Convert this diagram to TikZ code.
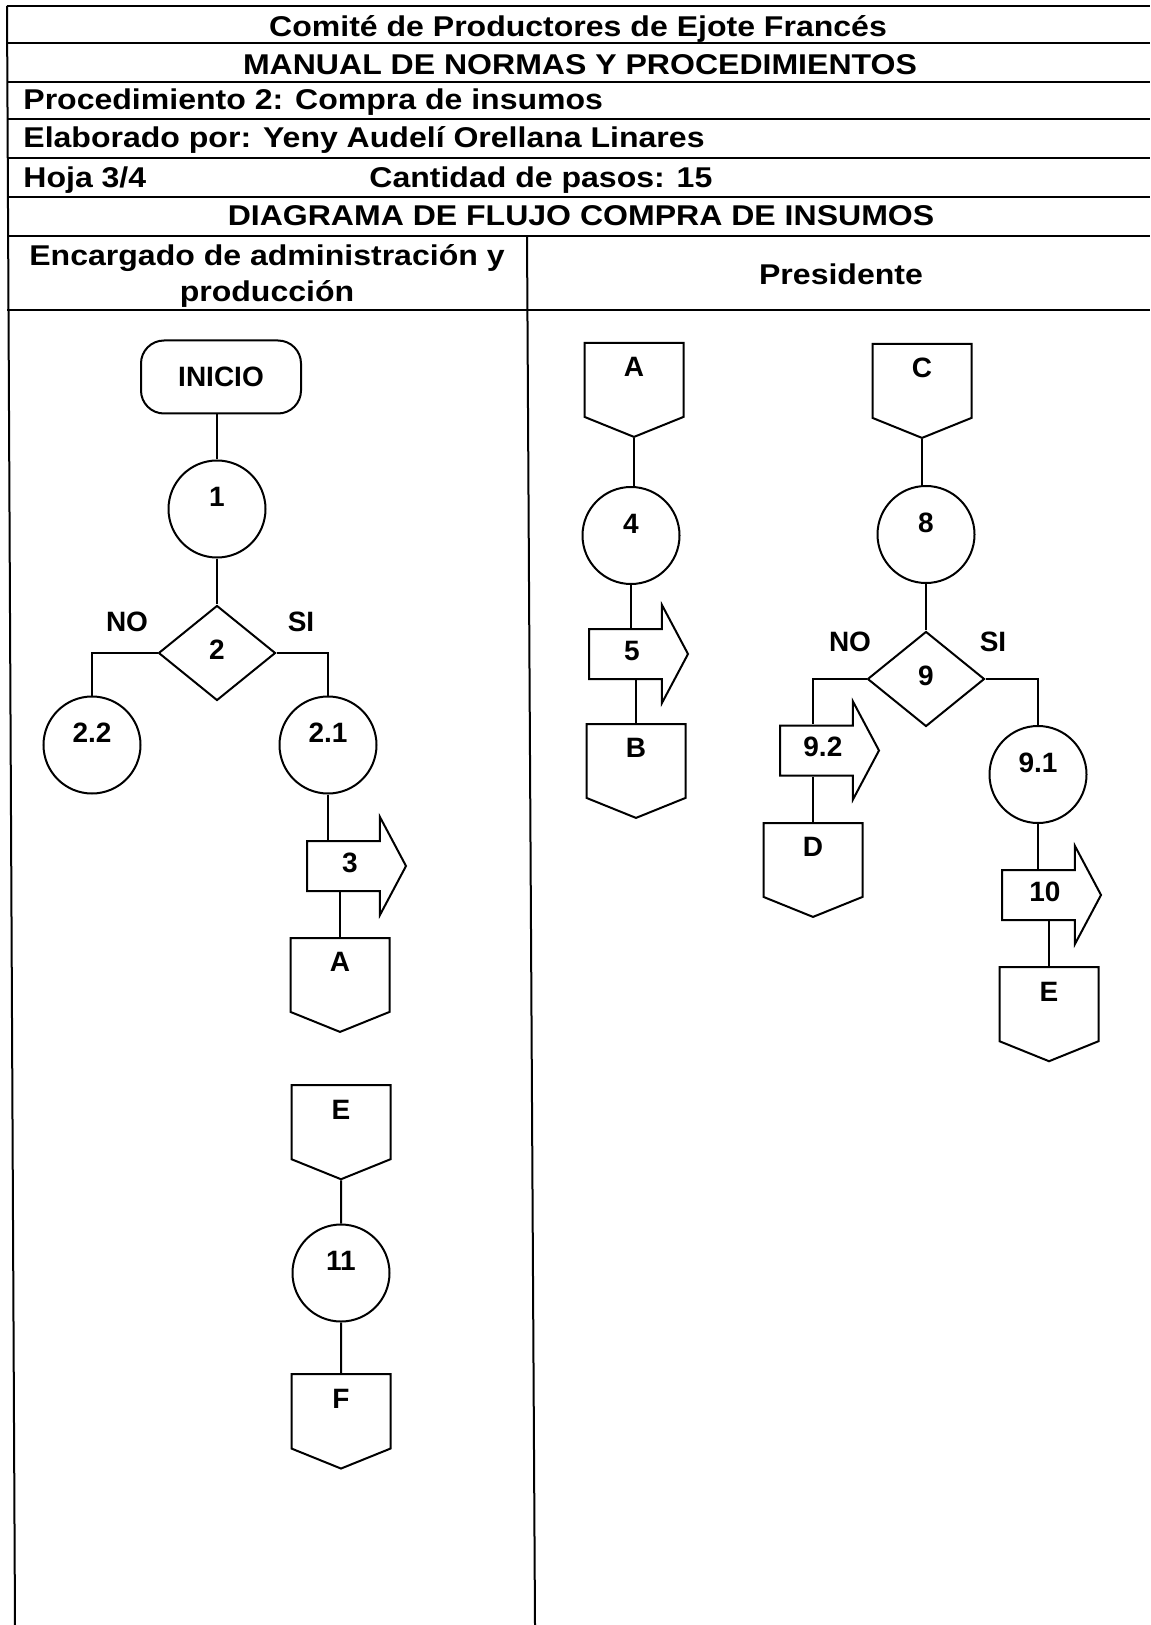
\documentclass[tikz,border=0pt]{standalone}
\usepackage{fontspec}
\setmainfont{Liberation Sans}
\newfontfamily\headfont{Liberation Sans}[FakeStretch=1.12]
\usetikzlibrary{shapes.geometric,shapes.arrows,shapes.symbols}
\tikzset{
  BaseNode/.style = {align=center, inner sep=0pt, text centered, draw=black, line width=1pt, fill=white, font=\fontsize{14}{16}\selectfont\bfseries},
  StartNode/.style = {BaseNode, rectangle, rounded corners=11.5pt, minimum width=80pt, minimum height=36.5pt},
  StepNode/.style = {BaseNode, circle, minimum size=48.5pt, text height=10pt, text depth=12.5pt},
  AskNode/.style = {BaseNode, diamond, minimum width=58.5pt, minimum height=47.5pt, text height=10pt, text depth=3.5pt},
  SendNode/.style = {BaseNode, single arrow, single arrow head extend=12pt, single arrow tip angle=124, minimum height=49.5pt, inner ysep=5pt, text height=10pt, text depth=4pt, anchor=tail},
  PageNode/.style = {BaseNode, signal, signal from=nowhere, signal to=south, signal pointer angle=136, minimum width=49.5pt, minimum height=39pt, text height=10pt, text depth=13pt, anchor=north},
  HeadText/.style = {inner sep=0pt, font=\headfont\fontsize{14.3}{18}\selectfont\bfseries},
  BranchText/.style = {inner sep=0pt, font=\fontsize{14}{16}\selectfont\bfseries},
  TableLine/.style = {line width=1pt},
  FlowLine/.style = {line width=1pt},
}

\begin{document}
\begin{tikzpicture}[x=0.5pt, y=-0.5pt]
  \useasboundingbox (0,0) rectangle (1150,1625);
  % table
  \draw[TableLine] (7,6) -- (1150,6);
  \foreach \y in {43,82,119,158,197,236,310}
    \draw[TableLine] (7,\y) -- (1150,\y);
  \draw[TableLine] (7,6) -- (15,1625);
  \draw[TableLine] (527,236) -- (535,1625);

  % header
  \node[HeadText, anchor=base] (empresa) at (578,37) {Comité de Productores de Ejote Francés};
  \node[HeadText, anchor=base] (manual) at (580,75) {MANUAL DE NORMAS Y PROCEDIMIENTOS};
  \node[HeadText, anchor=base west] (proc) at (23,110) {Procedimiento 2: Compra de insumos};
  \node[HeadText, anchor=base west] (autor) at (23,148) {Elaborado por: Yeny Audelí Orellana Linares};
  \node[HeadText, anchor=base west] (hoja) at (23,188) {Hoja 3/4};
  \node[HeadText, anchor=base west] (pasos) at (369,188) {Cantidad de pasos: 15};
  \node[HeadText, anchor=base] (diagrama) at (581,226) {DIAGRAMA DE FLUJO COMPRA DE INSUMOS};
  \node[HeadText, align=center] (encargado) at (267,276) {Encargado de administración y\\producción};
  \node[HeadText, anchor=base] (presidente) at (841,285) {Presidente};

  % Encargado de administracion y produccion
  \node[StartNode] (start) at (221,377) {INICIO};
  \node[StepNode] (step1) at (217,509) {1};
  \node[AskNode] (step2) at (217,653) {2};
  \node[StepNode] (step22) at (92,745) {2.2};
  \node[StepNode] (step21) at (328,745) {2.1};
  \node[SendNode] (step3) at (306,866) {3};
  \node[PageNode] (offA1) at (340,937) {A};
  \node[PageNode] (offE1) at (341,1084) {E};
  \node[StepNode] (step11) at (341,1273) {11};
  \node[PageNode] (offF) at (341,1373) {F};
  \node[BranchText] (no1) at (127,622) {NO};
  \node[BranchText] (si1) at (301,622) {SI};

  \draw[FlowLine] (step1.north |- start.south) -- (step1.north);
  \draw[FlowLine] (step1) -- (step2);
  \draw[FlowLine] (step2.west) -| (step22.north);
  \draw[FlowLine] (step2.east) -| (step21.north);
  \draw[FlowLine] (step21.south) -- (step21.south |- step3.north);
  \draw[FlowLine] (offA1.north |- step3.south) -- (offA1.north);
  \draw[FlowLine] (offE1) -- (step11);
  \draw[FlowLine] (step11) -- (offF);

  % Presidente
  \node[PageNode] (offA2) at (634,342) {A};
  \node[StepNode] (step4) at (631,535.5) {4};
  \node[SendNode] (step5) at (588,654) {5};
  \node[PageNode] (offB) at (636,723) {B};
  \node[PageNode] (offC) at (922,343) {C};
  \node[StepNode] (step8) at (926,534.5) {8};
  \node[AskNode] (step9) at (926,679) {9};
  \node[SendNode] (step92) at (779,750.5) {9.2};
  \node[PageNode] (offD) at (813,822) {D};
  \node[StepNode] (step91) at (1038,774.5) {9.1};
  \node[SendNode] (step10) at (1001,895) {10};
  \node[PageNode] (offE2) at (1049,966) {E};
  \node[BranchText] (no2) at (850,642) {NO};
  \node[BranchText] (si2) at (993,642) {SI};

  \draw[FlowLine] (offA2.south) -- (offA2.south |- step4.north);
  \draw[FlowLine] (step4.south) -- (step4.south |- step5.north);
  \draw[FlowLine] (offB.north |- step5.south) -- (offB.north);
  \draw[FlowLine] (offC.south) -- (offC.south |- step8.north);
  \draw[FlowLine] (step8) -- (step9);
  \draw[FlowLine] (step9.west) -| (offD.north |- step92.north);
  \draw[FlowLine] (offD.north |- step92.south) -- (offD.north);
  \draw[FlowLine] (step9.east) -| (step91.north);
  \draw[FlowLine] (step91.south) -- (step91.south |- step10.north);
  \draw[FlowLine] (offE2.north |- step10.south) -- (offE2.north);
\end{tikzpicture}
\end{document}
